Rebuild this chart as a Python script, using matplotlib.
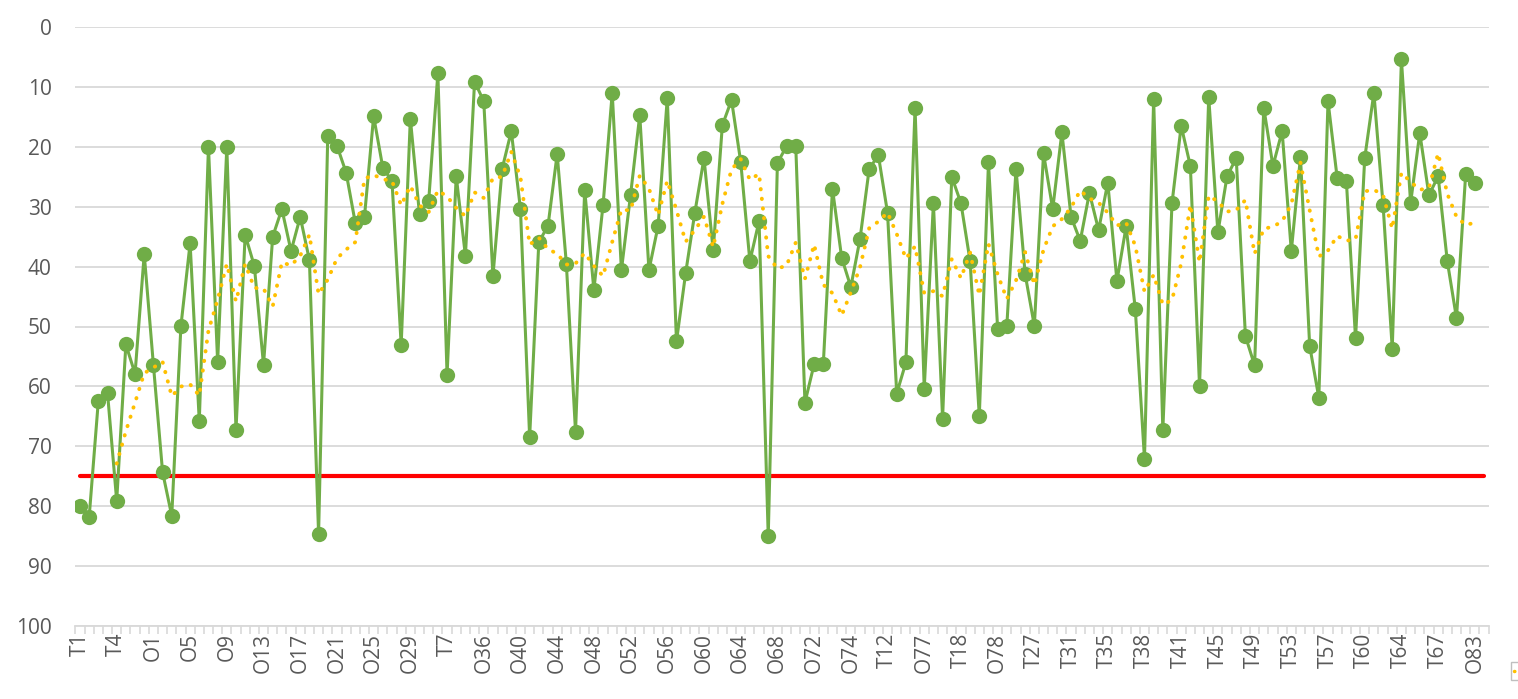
"""Scores per item with a 5-point moving average and a 75 threshold line."""

import matplotlib
matplotlib.use("Agg")
import matplotlib.pyplot as plt
from matplotlib.patches import Rectangle
import numpy as np
import pandas as pd

# values, one per category (153 points)
values = [
    80.0, 81.8, 62.4, 61.1, 79.1, 53.0, 57.9, 37.9, 56.4, 74.3, 81.6, 49.9, 36.1,
    65.8, 20.0, 55.9, 20.0, 67.3, 34.7, 39.9, 56.4, 35.0, 30.4, 37.4, 31.7, 38.9, 84.6, 18.2,
    19.8, 24.3, 32.7, 31.7, 14.9, 23.5, 25.7, 53.1, 15.3, 31.3, 29.0, 7.7, 58.1, 24.9, 38.2,
    9.1, 12.4, 41.6, 23.7, 17.4, 30.4, 68.5, 35.9, 33.2, 21.2, 39.5, 67.6, 27.2,
    43.9, 29.7, 11.0, 40.6, 28.0, 14.7, 40.6, 33.2, 11.8, 52.5, 41.1, 31.0, 21.9, 37.3, 16.4,
    12.2, 22.5, 39.1, 32.4, 85.0, 22.7, 19.9, 19.9, 62.7, 56.3, 56.3, 27.0, 38.5, 43.4,
    35.4, 23.7, 21.4, 31.0, 61.2, 56.0, 13.5, 60.4, 29.4, 65.4, 25.0, 29.4, 39.1, 65.0,
    22.6, 50.4, 49.9, 23.7, 41.3, 49.9, 21.1, 30.4, 17.6, 31.7, 35.7, 27.7, 33.9, 26.0,
    42.4, 33.3, 47.1, 72.1, 12.0, 67.3, 29.4, 16.5, 23.2, 60.0, 11.7, 34.3, 24.9, 21.9,
    51.6, 56.5, 13.5, 23.2, 17.4, 37.4, 21.7, 53.2, 61.9, 12.4, 25.2, 25.7, 52.0, 21.9,
    11.0, 29.7, 53.7, 5.4, 29.4, 17.7, 28.1, 24.9, 39.1, 48.6, 24.6, 26.1,
]

# only every 4th category name is shown on the axis
tick_labels = [
    "T1", "T4", "O1", "O5", "O9", "O13", "O17", "O21", "O25", "O29",
    "T7", "O36", "O40", "O44", "O48", "O52", "O56", "O60", "O64", "O68",
    "O72", "O74", "T12", "O77", "T18", "O78", "T27", "T31", "T35", "T38",
    "T41", "T45", "T49", "T53", "T57", "T60", "T64", "T67", "O83",
]

n_categories = 154  # last category holds only the threshold value
threshold = [75] * n_categories

GREEN = "#70AD47"
GOLD = "#FFC000"
GREY_TXT = "#595959"
GRID = "#D9D9D9"
DOTS = (0, (0.1, 2.4))

fig = plt.figure(figsize=(15.18, 6.99), dpi=100)
ax = fig.add_axes([75.4 / 1518, 1 - 626 / 699, (1488.6 - 75.4) / 1518, (626 - 27) / 699])

x = np.arange(len(values))
moving_avg = pd.Series(values).rolling(5).mean()

ax.plot(np.arange(n_categories), threshold, color="#FF0000", lw=3.0, zorder=2,
        solid_capstyle="round")
ax.plot(x, values, color=GREEN, lw=2.2, marker="o", ms=11, markeredgewidth=0,
        zorder=3)
ax.plot(x, moving_avg, color=GOLD, lw=2.8, linestyle=DOTS,
        dash_capstyle="round", zorder=4)

ax.set_xlim(-0.5, n_categories - 0.5)
ax.set_ylim(100, 0)
ax.set_yticks(range(0, 101, 10))
ax.yaxis.grid(True, color=GRID, lw=1.3)
ax.set_axisbelow(True)

ax.set_xticks(range(0, len(values), 4))
ax.set_xticklabels(tick_labels, rotation=90)
ax.set_xticks(np.arange(-0.5, n_categories, 1), minor=True)

for lab in ax.get_xticklabels() + ax.get_yticklabels():
    lab.set_fontfamily(["Open Sans", "DejaVu Sans"])
    lab.set_fontsize(15)
    lab.set_color(GREY_TXT)

ax.tick_params(axis="y", length=0, pad=17)
ax.tick_params(axis="x", which="major", length=0, pad=5)
ax.tick_params(axis="x", which="minor", length=6, color=GRID, width=1.2)

for side in ("top", "right", "left"):
    ax.spines[side].set_visible(False)
ax.spines["bottom"].set_color(GRID)
ax.spines["bottom"].set_linewidth(1.3)

# clipped legend box peeking in at the lower right corner
fig.patches.append(Rectangle((1511 / 1518, 1 - 680 / 699), 20 / 1518, 18 / 699,
                             transform=fig.transFigure, facecolor="white",
                             edgecolor="#BFBFBF", lw=1.0))
fig.lines.append(plt.Line2D([1514 / 1518, 1520 / 1518], [1 - 671 / 699] * 2,
                            transform=fig.transFigure, color=GOLD, lw=2.5,
                            linestyle=DOTS, dash_capstyle="round"))

fig.savefig("out.png", dpi=100)
